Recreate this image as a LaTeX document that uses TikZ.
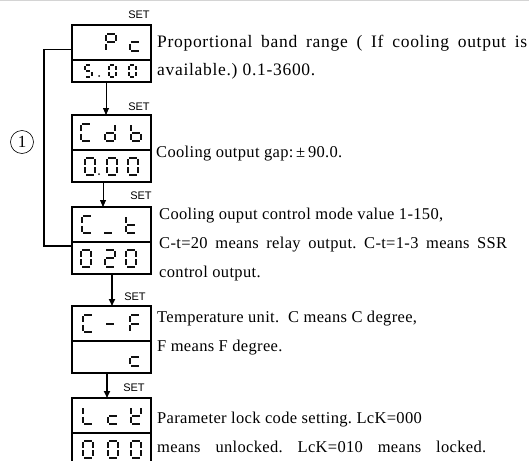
\documentclass[tikz,border=0pt]{standalone}
\usepackage{fontspec}
\setmainfont{Liberation Serif}
\newfontfamily\setfont{Liberation Sans}
\usetikzlibrary{arrows.meta,positioning,calc}
\definecolor{ledink}{HTML}{111111}
\definecolor{rulegray}{HTML}{D4D4D4}
\frenchspacing

% segment lists of the display characters
\newcommand\glyphP{tl/tr,tr/mr,ml/mr,tl/ml,ml/bl}
\newcommand\glyphc{ml/mr,ml/bl,bl/br}
\newcommand\glyphfive{tl/tr,tl/ml,ml/mr,mr/br,bl/br}
\newcommand\glyphzero{tl/tr,tr/mr,mr/br,bl/br,ml/bl,tl/ml}
\newcommand\glyphC{tl/tr,tl/ml,ml/bl,bl/br}
\newcommand\glyphd{tr/mr,mr/br,bl/br,ml/bl,ml/mr}
\newcommand\glyphb{tl/ml,ml/bl,bl/br,mr/br,ml/mr}
\newcommand\glyphund{bl/br}
\newcommand\glypht{tl/ml,ml/bl,bl/br,ml/mr}
\newcommand\glyphtwo{tl/tr,tr/mr,ml/mr,ml/bl,bl/br}
\newcommand\glyphdash{ml/mr}
\newcommand\glyphF{tl/tr,tl/ml,ml/mr,ml/bl}
\newcommand\glyphL{tl/ml,ml/bl,bl/br}
\newcommand\glyphK{tl/ml,tr/mr,ml/mr,ml/bl,bl/br}

% one display character: [scale]{centre}{segments}
\newcommand\ledglyph[3][1]{%
  \begin{scope}[shift={#2},scale=#1]
    \coordinate (tl) at (-5,-8.5); \coordinate (tr) at (5,-8.5);
    \coordinate (ml) at (-5,0);  \coordinate (mr) at (5,0);
    \coordinate (bl) at (-5,8.5);  \coordinate (br) at (5,8.5);
    \foreach \p/\q in #3 {\draw[seg] (\p) -- (\q);}
  \end{scope}}

\begin{document}
\begin{tikzpicture}[x=1pt, y=-1pt,
    ledcell/.style={draw, line width=1.5pt, minimum width=79pt,
        minimum height=35pt, inner sep=0pt, outer sep=0pt},
    ledval/.style={ledcell, minimum height=32pt},
    seg/.style={draw=ledink, line width=2pt, shorten <=1.3pt, shorten >=1.3pt},
    setlbl/.style={font=\setfont\fontsize{11}{11}\selectfont, inner sep=0pt},
    desc/.style={font=\fontsize{16.5}{29}\selectfont\addfontfeatures{LetterSpace=2},
        align=left, anchor=base west, inner sep=0pt},
    flow/.style={-{Triangle[length=7pt,width=6pt]}, line width=0.8pt},
    flowbold/.style={flow, line width=1.6pt},
    loopline/.style={line width=1.5pt}]
  \useasboundingbox (0,0) rectangle (529,460);
  \draw[rulegray, line width=1pt] (0,0.5) -- (529,0.5);

  % displays
  \node[ledcell] (pc) at (111.5,42.5) {};
  \node[ledval, minimum height=22pt, below=0pt of pc] (pcv) {};
  \node[ledcell, below=33pt of pcv] (cdb) {};
  \node[ledval, below=0pt of cdb] (cdbv) {};
  \node[ledcell, below=25pt of cdbv] (ct) {};
  \node[ledval, below=0pt of ct] (ctv) {};
  \node[ledcell, below=32pt of ctv] (cf) {};
  \node[ledval, below=0pt of cf] (cfv) {};
  \node[ledcell, below=25pt of cfv] (lck) {};
  \node[ledval, below=0pt of lck] (lckv) {};

  % characters on the displays
  \ledglyph{($(pc.west)+(39,0)$)}{\glyphP}
  \ledglyph{($(pc.west)+(63,0)$)}{\glyphc}
  \ledglyph[0.7]{($(pcv.west)+(16,0)$)}{\glyphfive}
  \ledglyph[0.7]{($(pcv.west)+(40,0)$)}{\glyphzero}
  \ledglyph[0.7]{($(pcv.west)+(60,0)$)}{\glyphzero}
  \fill[ledink] ($(pcv.west)+(27,5)$) circle (1pt);
  \ledglyph{($(cdb.west)+(14,0)$)}{\glyphC}
  \ledglyph{($(cdb.west)+(38,0)$)}{\glyphd}
  \ledglyph{($(cdb.west)+(64,0)$)}{\glyphb}
  \ledglyph{($(cdbv.west)+(18,0)$)}{\glyphzero}
  \ledglyph{($(cdbv.west)+(40,0)$)}{\glyphzero}
  \ledglyph{($(cdbv.west)+(61,0)$)}{\glyphzero}
  \fill[ledink] ($(cdbv.west)+(27,8)$) circle (1pt);
  \ledglyph{($(ct.west)+(15,0)$)}{\glyphC}
  \ledglyph{($(ct.west)+(36,0)$)}{\glyphund}
  \ledglyph{($(ct.west)+(59,0)$)}{\glypht}
  \ledglyph{($(ctv.west)+(14,0)$)}{\glyphzero}
  \ledglyph{($(ctv.west)+(38,0)$)}{\glyphtwo}
  \ledglyph{($(ctv.west)+(59,0)$)}{\glyphzero}
  \ledglyph{($(cf.west)+(16,0)$)}{\glyphC}
  \ledglyph{($(cf.west)+(38,0)$)}{\glyphdash}
  \ledglyph{($(cf.west)+(63,0)$)}{\glyphF}
  \ledglyph{($(cfv.west)+(63,0)$)}{\glyphc}
  \ledglyph{($(lck.west)+(16,0)$)}{\glyphL}
  \ledglyph{($(lck.west)+(41,0)$)}{\glyphc}
  \ledglyph{($(lck.west)+(64,0)$)}{\glyphK}
  \ledglyph{($(lckv.west)+(16,0)$)}{\glyphzero}
  \ledglyph{($(lckv.west)+(41,0)$)}{\glyphzero}
  \ledglyph{($(lckv.west)+(64,0)$)}{\glyphzero}

  % SET keys
  \node[setlbl] (set1) at ($(pc.north east)+(-12,-10)$) {SET};
  \node[setlbl] (set2) at ($(cdb.north east)+(-12,-8)$) {SET};
  \node[setlbl] (set3) at ($(ct.north east)+(-10,-11)$) {SET};
  \node[setlbl] (set4) at ($(cf.north east)+(-16,-9)$) {SET};
  \node[setlbl] (set5) at ($(lck.north east)+(-17,-10)$) {SET};

  \draw[flow] ([xshift=-5.5pt]pcv.south) -- ([xshift=-5.5pt]cdb.north);
  \draw[flow] ([xshift=-8.5pt]cdbv.south) -- ([xshift=-8.5pt]ct.north);
  \draw[flowbold] ([xshift=0.5pt]ctv.south) -- ([xshift=0.5pt]cf.north);
  \draw[flowbold] ([xshift=-4.5pt]cfv.south) -- ([xshift=-4.5pt]lck.north);

  % return loop
  \draw[loopline] ([yshift=-7pt]pc.west) -| ([xshift=-28pt,yshift=12pt]ctv.west)
    -- ([yshift=12pt]ctv.west);
  \node[draw, circle, line width=0.6pt, minimum size=23pt, inner sep=0pt,
    font=\fontsize{17}{17}\selectfont] (loopmark) at (22,142) {1};

  % descriptions (anchored at the baseline of the last line)
  \node[desc, font=\fontsize{17.5}{28}\selectfont\addfontfeatures{LetterSpace=4}]
    (pcdesc) at ($(pc.east)+(6,32.5)$)
    {\makebox[370pt][s]{Proportional band range ( If cooling output is}\\available.) 0.1-3600.};
  \node[desc] (cdbdesc) at ($(cdb.south east)+(5,7)$)
    {Cooling output gap:\,±\,90.0.};
  \node[desc] (ctdesc) at ($(ct.east)+(8,52.5)$)
    {Cooling ouput control mode value 1-150,\\\makebox[348pt][s]{C-t=20 means relay output. C-t=1-3 means SSR}\\control output.};
  \node[desc] (cfdesc) at ($(cf.east)+(6,27.5)$)
    {Temperature unit.\ \ C means C degree,\\F means F degree.};
  \node[desc] (lckdesc) at ($(lck.east)+(6,36.5)$)
    {Parameter lock code setting. LcK=000\\\makebox[329pt][s]{means unlocked. LcK=010 means locked.}};
\end{tikzpicture}
\end{document}
